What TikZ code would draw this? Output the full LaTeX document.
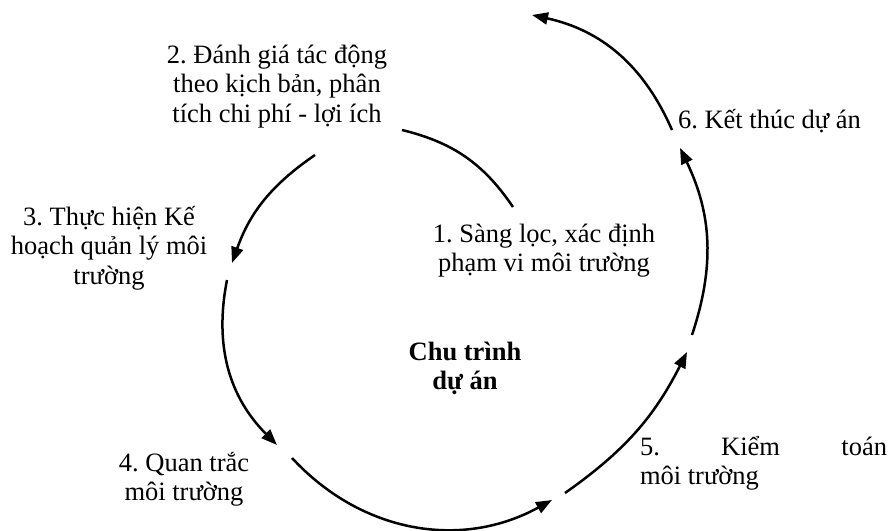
\documentclass[tikz,border=0pt]{standalone}
\usepackage{fontspec}
\setmainfont{Liberation Serif}
\usetikzlibrary{arrows.meta}
\frenchspacing
\tikzset{
  lbl/.style={inner sep=0pt, outer sep=0pt, font=\fontsize{26.5}{29.5}\selectfont},
  cyc/.style={line width=2.5pt, black},
  cycarrow/.style={cyc, -{Triangle[length=16pt,width=12pt]}}
}
\begin{document}
\begin{tikzpicture}[x=1pt,y=1pt]
\useasboundingbox (0,0) rectangle (890,-530);
% labels
\node[lbl, anchor=base] (l1) at (544,-242) {\begin{tabular}[t]{@{}c@{}}1. Sàng lọc, xác định\\ phạm vi môi trường\end{tabular}};
\node[lbl, anchor=base] (l2) at (277,-63) {\begin{tabular}[t]{@{}c@{}}2. Đánh giá tác động\\ theo kịch bản, phân\\ tích chi phí - lợi ích\end{tabular}};
\node[lbl, anchor=base] (l3) at (109,-225) {\begin{tabular}[t]{@{}c@{}}3. Thực hiện Kế\\ hoạch quản lý môi\\ trường\end{tabular}};
\node[lbl, anchor=base] (l4) at (184,-471) {\begin{tabular}[t]{@{}c@{}}4. Quan trắc\\ môi trường\end{tabular}};
\node[lbl, anchor=base west] (l5) at (640,-455) {\begin{tabular}[t]{@{}l@{}}\makebox[247pt][s]{5. Kiểm toán}\\ môi trường\end{tabular}};
\node[lbl, anchor=base west] (l6) at (678,-128) {6. Kết thúc dự án};
\node[lbl, anchor=base, font=\fontsize{26.5}{29.5}\selectfont\bfseries] (ctr) at (465,-360) {\begin{tabular}[t]{@{}c@{}}Chu trình\\ dự án\end{tabular}};
% arc end points
\coordinate (a1s) at (513,-207); \coordinate (a1e) at (402,-130);
\coordinate (a2s) at (315,-155); \coordinate (a2e) at (232,-263);
\coordinate (a3s) at (227,-280); \coordinate (a3e) at (277,-445);
\coordinate (a4s) at (292,-458); \coordinate (a4e) at (552,-500);
\coordinate (a5s) at (565,-493); \coordinate (a5e) at (687,-352);
\coordinate (a6s) at (692,-335); \coordinate (a6e) at (680,-148);
\coordinate (a7s) at (672,-130); \coordinate (a7e) at (532,-15);
% arcs
\draw[cyc] (a1s) to[bend right=21] (a1e);
\draw[cycarrow] (a2s) to[bend right=18] (a2e);
\draw[cycarrow] (a3s) to[bend right=28] (a3e);
\draw[cycarrow] (a4s) to[bend right=38] (a4e);
\draw[cycarrow] (a5s) to[bend right=14] (a5e);
\draw[cycarrow] (a6s) to[bend right=22] (a6e);
\draw[cycarrow] (a7s) to[bend right=27] (a7e);
\end{tikzpicture}
\end{document}
